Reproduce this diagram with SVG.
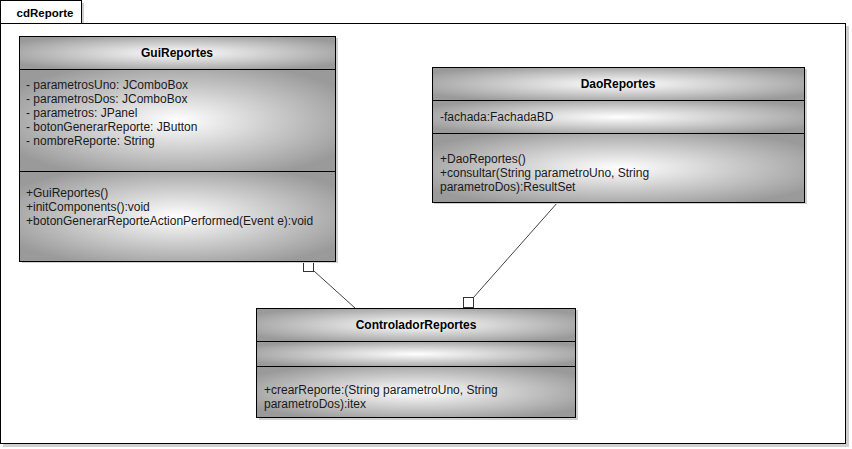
<svg xmlns="http://www.w3.org/2000/svg" width="852" height="449" viewBox="0 0 852 449">
<style>
.t{font-family:"Liberation Sans",Arial,sans-serif;font-size:12px;fill:#1a1a1a}
.b{font-family:"Liberation Sans",Arial,sans-serif;font-size:12px;font-weight:bold;fill:#000;text-anchor:middle}
.c{fill:url(#g);stroke:#000;stroke-width:1}
.sh{fill:#d0d0d0}
.ln{stroke:#444;stroke-width:1;fill:none}
.sq{fill:#fff;stroke:#333;stroke-width:1}
</style>
<defs>
<radialGradient id="g" cx="0.5" cy="0.5" r="0.6">
<stop offset="0" stop-color="#ffffff"/>
<stop offset="1" stop-color="#9a9a9a"/>
</radialGradient>
</defs>
<rect x="0" y="0" width="852" height="449" fill="#fff"/>
<g id="frame">
<rect class="sh" x="3" y="26" width="846" height="421"/>
<rect class="sh" x="3" y="3" width="81" height="22"/>
<rect x="0.5" y="23.5" width="845" height="420" fill="#fff" stroke="#000"/>
<rect x="0.5" y="0.5" width="81" height="23" fill="#fff" stroke="#000"/>
<text class="b" x="45" y="17" style="font-size:11.5px">cdReporte</text>
</g>
<g id="connectors">
<line class="ln" x1="314" y1="271" x2="355" y2="308"/>
<rect class="sq" x="303.5" y="261.5" width="10" height="10"/>
<line class="ln" x1="473" y1="298" x2="558" y2="202"/>
<rect class="sq" x="463.5" y="297.5" width="10" height="10"/>
</g>
<g id="GuiReportes">
<rect class="sh" x="22" y="38" width="316" height="225"/>
<rect class="c" x="19.5" y="36.5" width="316" height="33"/>
<rect class="c" x="19.5" y="69.5" width="316" height="102"/>
<rect class="c" x="19.5" y="171.5" width="316" height="90"/>
<text class="b" x="177" y="57">GuiReportes</text>
<text class="t" x="26" y="89">- parametrosUno: JComboBox</text>
<text class="t" x="26" y="103">- parametrosDos: JComboBox</text>
<text class="t" x="26" y="117">- parametros: JPanel</text>
<text class="t" x="26" y="131">- botonGenerarReporte: JButton</text>
<text class="t" x="26" y="145">- nombreReporte: String</text>
<text class="t" x="26" y="197">+GuiReportes()</text>
<text class="t" x="26" y="211">+initComponents():void</text>
<text class="t" x="26" y="225">+botonGenerarReporteActionPerformed(Event e):void</text>
</g>
<g id="DaoReportes">
<rect class="sh" x="434" y="69" width="373" height="135"/>
<rect class="c" x="432.5" y="67.5" width="372" height="33"/>
<rect class="c" x="432.5" y="100.5" width="372" height="33"/>
<rect class="c" x="432.5" y="133.5" width="372" height="69"/>
<text class="b" x="618" y="88">DaoReportes</text>
<text class="t" x="440" y="121">-fachada:FachadaBD</text>
<text class="t" x="440" y="163">+DaoReportes()</text>
<text class="t" x="440" y="177">+consultar(String parametroUno, String</text>
<text class="t" x="440" y="191">parametroDos):ResultSet</text>
</g>
<g id="ControladorReportes">
<rect class="sh" x="259" y="310" width="319" height="110"/>
<rect class="c" x="256.5" y="308.5" width="319" height="33"/>
<rect class="c" x="256.5" y="341.5" width="319" height="25"/>
<rect class="c" x="256.5" y="366.5" width="319" height="51"/>
<text class="b" x="416" y="329">ControladorReportes</text>
<text class="t" x="264" y="394">+crearReporte:(String parametroUno, String</text>
<text class="t" x="264" y="408">parametroDos):itex</text>
</g>
</svg>
